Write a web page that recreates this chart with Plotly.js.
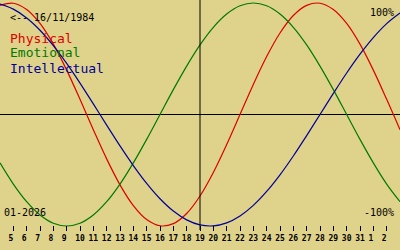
<!DOCTYPE html>
<html>
<head>
<meta charset="utf-8">
<script src="https://cdn.plot.ly/plotly-3.0.1.min.js"></script>
<style>html,body{margin:0;padding:0;background:#dfd28a;}#chart{width:400px;height:250px;}</style>
</head>
<body>
<div id="chart"></div>
<script>
// Days shown: 4 Jan 2026 .. 3 Feb 2026 (as day index, Feb = 32..)
const days = [4,5,6,7,8,9,10,11,12,13,14,15,16,17,18,19,20,21,22,23,24,25,26,27,28,29,30,31,32,33,34];
const physical = [0.979,0.998,0.942,0.817,0.631,0.398,0.136,-0.136,-0.398,-0.631,-0.817,-0.942,-0.998,-0.979,-0.888,-0.731,-0.520,-0.270,0,0.270,0.520,0.731,0.888,0.979,0.998,0.942,0.817,0.631,0.398,0.136,-0.136];
const emotional = [-0.434,-0.624,-0.782,-0.901,-0.975,-1,-0.975,-0.901,-0.782,-0.624,-0.434,-0.223,0,0.223,0.434,0.624,0.782,0.901,0.975,1,0.975,0.901,0.782,0.624,0.434,0.223,0,-0.223,-0.434,-0.624,-0.782];
const intellectual = [0.990,0.945,0.866,0.756,0.618,0.458,0.282,0.095,-0.095,-0.282,-0.458,-0.618,-0.756,-0.866,-0.945,-0.990,-0.999,-0.972,-0.910,-0.815,-0.690,-0.541,-0.372,-0.189,0,0.189,0.372,0.541,0.690,0.815,0.910];
const tickVals = [5,6,7,8,9,10,11,12,13,14,15,16,17,18,19,20,21,22,23,24,25,26,27,28,29,30,31,32,33];
const tickLabels = ["5","6","7","8","9","10","11","12","13","14","15","16","17","18","19","20","21","22","23","24","25","26","27","28","29","30","31","1","2"];
const today = 19;
const birthLabel = "<-- 16/11/1984";
const monthLabel = "01-2026";
const seriesNames = ["Physical","Emotional","Intellectual"];
const colors = ["#dd0000","#007a00","#00009a"];

const mono = "DejaVu Sans Mono, monospace";
const series = [physical, emotional, intellectual];
const traces = series.map((s, i) => ({
  x: days, y: s, type: 'scatter', mode: 'lines', name: seriesNames[i],
  line: {color: colors[i], width: 1.2, shape: 'spline', smoothing: 1},
  hoverinfo: 'skip'
}));

// single-digit labels sit slightly left of their tick in the reference
const shownLabels = tickLabels.map(t => t.length === 1 ? t + "\u00a0" : t);

const ymax = 1 + 3/111.5, ymin = -1 - 24/111.5;
const layout = {
  width: 400, height: 250,
  margin: {l: 0, r: 0, t: 0, b: 0},
  paper_bgcolor: '#dfd28a', plot_bgcolor: '#dfd28a',
  showlegend: false,
  xaxis: {
    range: [4, 34], showgrid: false, zeroline: false, showline: false,
    anchor: 'free', position: 0.1,
    tickmode: 'array', tickvals: tickVals, ticktext: shownLabels,
    ticks: 'outside', ticklen: 5, tickwidth: 1, tickcolor: '#000',
    tickfont: {family: mono, size: 8, color: '#000', weight: 'bold'}
  },
  yaxis: {
    range: [ymin, ymax], showgrid: false, showticklabels: false, ticks: '',
    zeroline: true, zerolinecolor: '#000', zerolinewidth: 1, showline: false
  },
  shapes: [
    {type: 'line', xref: 'x', yref: 'paper', x0: today, x1: today, y0: 0.08, y1: 1,
     line: {color: '#000', width: 1}}
  ],
  annotations: [
    {text: birthLabel, xref: 'paper', yref: 'paper', x: 8/400, y: 1 - 17/250, xanchor: 'left', yanchor: 'middle',
     showarrow: false, font: {family: mono, size: 10, color: '#000'}},
    {text: seriesNames[0], xref: 'paper', yref: 'paper', x: 8/400, y: 1 - 38/250, xanchor: 'left', yanchor: 'middle',
     showarrow: false, font: {family: mono, size: 13, color: colors[0]}},
    {text: seriesNames[1], xref: 'paper', yref: 'paper', x: 8/400, y: 1 - 53/250, xanchor: 'left', yanchor: 'middle',
     showarrow: false, font: {family: mono, size: 13, color: colors[1]}},
    {text: seriesNames[2], xref: 'paper', yref: 'paper', x: 8/400, y: 1 - 68/250, xanchor: 'left', yanchor: 'middle',
     showarrow: false, font: {family: mono, size: 13, color: colors[2]}},
    {text: monthLabel, xref: 'paper', yref: 'paper', x: 2/400, y: 1 - 212/250, xanchor: 'left', yanchor: 'middle',
     showarrow: false, font: {family: mono, size: 10, color: '#000'}},
    {text: "100%", xref: 'paper', yref: 'paper', x: 396/400, y: 1 - 12/250, xanchor: 'right', yanchor: 'middle',
     showarrow: false, font: {family: mono, size: 10, color: '#000'}},
    {text: "-100%", xref: 'paper', yref: 'paper', x: 396/400, y: 1 - 212/250, xanchor: 'right', yanchor: 'middle',
     showarrow: false, font: {family: mono, size: 10, color: '#000'}}
  ]
};
Plotly.newPlot('chart', traces, layout, {staticPlot: true, displayModeBar: false});
</script>
</body>
</html>
